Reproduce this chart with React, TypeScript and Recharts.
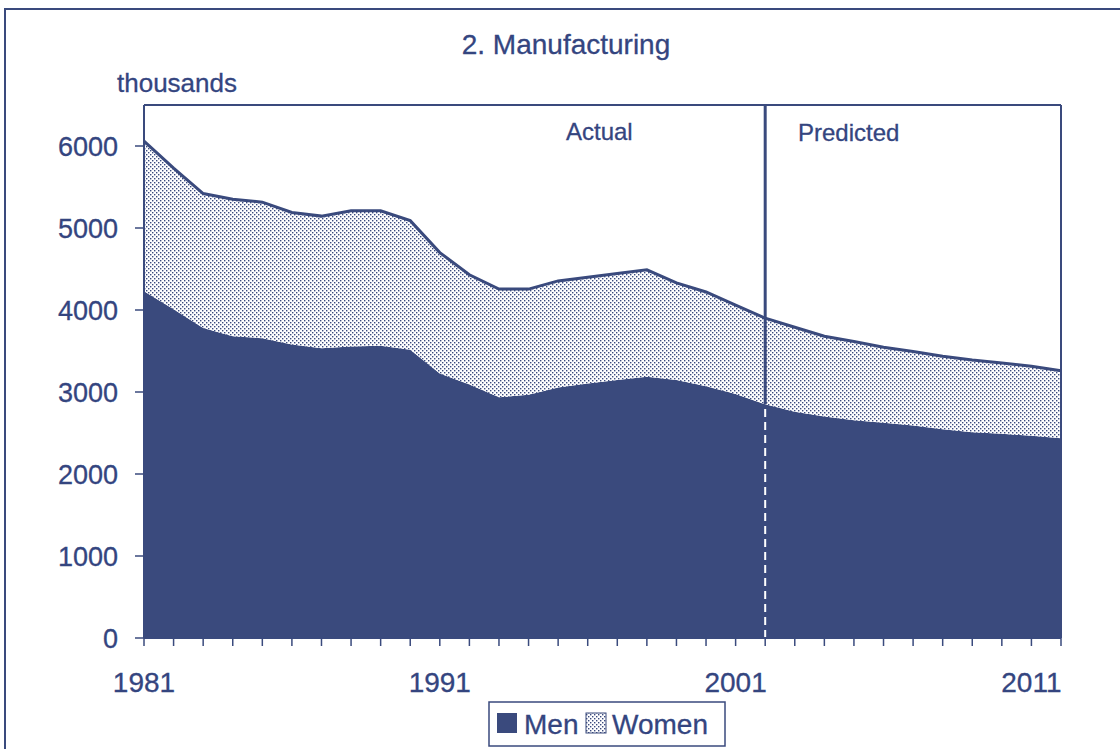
import React from 'react';
import { AreaChart, Area, XAxis, YAxis, ReferenceLine } from 'recharts';

const years = [1981, 1982, 1983, 1984, 1985, 1986, 1987, 1988, 1989, 1990, 1991, 1992, 1993, 1994, 1995, 1996, 1997, 1998, 1999, 2000, 2001, 2002, 2003, 2004, 2005, 2006, 2007, 2008, 2009, 2010, 2011, 2012];
const men = [4230, 4010, 3780, 3680, 3655, 3580, 3535, 3555, 3565, 3515, 3225, 3090, 2935, 2965, 3055, 3105, 3145, 3185, 3145, 3070, 2975, 2850, 2760, 2700, 2655, 2625, 2590, 2545, 2510, 2490, 2465, 2435];
const women = [1830, 1720, 1640, 1670, 1660, 1610, 1610, 1655, 1645, 1575, 1475, 1340, 1320, 1290, 1300, 1295, 1300, 1305, 1185, 1150, 1085, 1050, 1030, 980, 960, 920, 905, 890, 880, 865, 850, 825];
const yTicks = [0, 1000, 2000, 3000, 4000, 5000, 6000];
const xLabels = [1981, 1991, 2001, 2011];
const dividerYear = 2002;
const title = '2. Manufacturing';
const unitLabel = 'thousands';
const seriesNames = ['Men', 'Women'];

const NAVY = '#3a4a7d';
const TEXT = '#34457f';
const FONT = '"Liberation Sans", Arial, sans-serif';

const data = years.map((y, i) => ({ year: y, men: men[i], women: women[i] }));
const dividerMen = men[years.indexOf(dividerYear)];

export default function App() {
  return (
    <div style={{ position: 'absolute', left: 0, top: 0, width: 1120, height: 749, background: '#fff', fontFamily: FONT }}>
      <svg width={0} height={0} style={{ position: 'absolute' }}>
        <defs>
          <pattern id="dots" width={4} height={4} patternUnits="userSpaceOnUse">
            <rect width={4} height={4} fill="#ffffff" />
            <rect x={0} y={0} width={1.4} height={1.4} fill={NAVY} />
            <rect x={2} y={2} width={1.4} height={1.4} fill={NAVY} />
          </pattern>
        </defs>
      </svg>
      <AreaChart
        width={1120}
        height={749}
        data={data}
        margin={{ top: 105, right: 59, left: 0, bottom: 51 }}
      >
        <XAxis
          dataKey="year"
          type="number"
          domain={[1981, 2012]}
          ticks={years}
          interval={0}
          height={60}
          tickSize={8}
          tickMargin={26}
          tickFormatter={(v: number) => (xLabels.includes(v) ? String(v) : '')}
          tick={{ fill: TEXT, fontSize: 28, fontFamily: FONT, stroke: TEXT, strokeWidth: 0.3 }}
          axisLine={{ stroke: NAVY, strokeWidth: 2 }}
          tickLine={{ stroke: NAVY, strokeWidth: 1.5 }}
        />
        <YAxis
          domain={[0, 6500]}
          ticks={yTicks}
          width={144}
          tickSize={9}
          tickMargin={17}
          tick={{ fill: TEXT, fontSize: 27, fontFamily: FONT, stroke: TEXT, strokeWidth: 0.3 }}
          axisLine={{ stroke: NAVY, strokeWidth: 2 }}
          tickLine={{ stroke: NAVY, strokeWidth: 1.5 }}
        />
        <Area
          type="linear"
          dataKey="men"
          stackId="a"
          stroke="none"
          fill={NAVY}
          fillOpacity={1}
          isAnimationActive={false}
        />
        <Area
          type="linear"
          dataKey="women"
          stackId="a"
          stroke={NAVY}
          strokeWidth={3}
          fill="url(#dots)"
          fillOpacity={1}
          isAnimationActive={false}
        />
        <ReferenceLine
          segment={[{ x: dividerYear, y: dividerMen }, { x: dividerYear, y: 6500 }]}
          stroke={NAVY}
          strokeWidth={3}
        />
        <ReferenceLine
          segment={[{ x: dividerYear, y: 0 }, { x: dividerYear, y: dividerMen }]}
          stroke="#ffffff"
          strokeWidth={2}
          strokeDasharray="8 5"
        />
        <ReferenceLine y={6500} stroke={NAVY} strokeWidth={2} />
        <ReferenceLine x={2012} stroke={NAVY} strokeWidth={2} />
      </AreaChart>
      <svg width={1120} height={749} style={{ position: 'absolute', left: 0, top: 0, pointerEvents: 'none' }}>
        <rect x={5} y={9} width={1200} height={800} fill="none" stroke={NAVY} strokeWidth={2} />
        <g fill={TEXT} stroke={TEXT} strokeWidth={0.3} fontFamily={FONT}>
          <text x={566} y={54} textAnchor="middle" fontSize={28}>{title}</text>
          <text x={117} y={92} fontSize={26}>{unitLabel}</text>
          <text x={566} y={140} fontSize={24}>Actual</text>
          <text x={798} y={141} fontSize={24}>Predicted</text>
        </g>
        <rect x={489} y={702} width={236} height={44} fill="#fff" stroke={NAVY} strokeWidth={1.5} />
        <rect x={497} y={713} width={20} height={20} fill={NAVY} />
        <rect x={586} y={713} width={20} height={20} fill="url(#dots)" stroke={NAVY} strokeWidth={1} />
        <g fill={TEXT} stroke={TEXT} strokeWidth={0.3} fontFamily={FONT}>
          <text x={524} y={734} fontSize={28}>{seriesNames[0]}</text>
          <text x={612} y={734} fontSize={28}>{seriesNames[1]}</text>
        </g>
      </svg>
    </div>
  );
}
